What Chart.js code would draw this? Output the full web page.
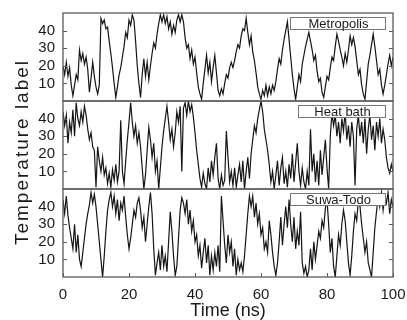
<!DOCTYPE html>
<html>
<head>
<meta charset="utf-8">
<script src="https://cdn.jsdelivr.net/npm/chart.js@4.4.1/dist/chart.umd.min.js"></script>
<style>
  html, body { margin: 0; padding: 0; background: #fff; }
  #wrap { position: relative; width: 407px; height: 320px; }
</style>
</head>
<body>
<div id="wrap"><canvas id="tempChart" width="407" height="320"></canvas></div>
<script>
// sampling interval of the trajectories (ns)
const sampleStep = 0.5;

const panelNames = ['Metropolis', 'Heat bath', 'Suwa-Todo'];
const xTicks = [0, 20, 40, 60, 80, 100];
const yTicks = [10, 20, 30, 40];

// temperature label vs time, every 0.5 ns
const metropolis = [
    20, 15, 22, 14, 19, 9, 3, 9, 15, 12,
    29, 23, 27, 21, 25, 18, 5, 13, 22, 14,
    8, 4, 9, 47, 44, 46, 41, 42, 34, 27,
    19, 10, 2, 8, 15, 19, 25, 31, 39, 36,
    46, 43, 49, 46, 34, 20, 10, 2, 15, 24,
    14, 22, 12, 20, 27, 33, 30, 38, 44, 49,
    45, 49, 44, 48, 41, 45, 38, 43, 39, 46,
    49, 45, 49, 45, 36, 30, 32, 24, 29, 21,
    25, 16, 8, 4, 1, 10, 18, 26, 16, 22,
    11, 19, 26, 16, 6, 3, 7, 4, 10, 15,
    13, 19, 22, 19, 23, 28, 32, 30, 37, 41,
    40, 47, 39, 32, 37, 28, 23, 16, 8, 4,
    1, 6, 3, 9, 3, 8, 4, 9, 6, 11,
    18, 24, 21, 29, 35, 40, 45, 35, 25, 15,
    7, 1, 8, 15, 11, 21, 26, 31, 35, 39,
    34, 29, 23, 26, 17, 11, 13, 5, 2, 8,
    14, 12, 19, 25, 23, 31, 38, 34, 29, 25,
    20, 27, 22, 29, 37, 32, 36, 31, 23, 15,
    18, 9, 4, 1, 11, 21, 26, 32, 38, 31,
    23, 15, 18, 9, 4, 9, 15, 21, 26, 20,
    25
];

const heatBath = [
    44, 36, 42, 26, 38, 32, 45, 30, 49, 40,
    36, 44, 38, 47, 42, 34, 28, 32, 24, 22,
    1, 24, 16, 10, 18, 8, 12, 3, 9, 1,
    11, 5, 14, 4, 10, 39, 10, 3, 16, 28,
    38, 49, 38, 30, 36, 26, 32, 24, 12, 0,
    8, 22, 35, 28, 18, 26, 10, 16, 0, 12,
    24, 33, 40, 47, 38, 28, 34, 24, 32, 44,
    38, 47, 10, 46, 49, 42, 50, 44, 48, 41,
    32, 22, 14, 6, 1, 9, 3, 0, 12, 4,
    16, 8, 18, 26, 6, 0, 8, 2, 5, 33,
    18, 4, 10, 2, 12, 1, 8, 14, 4, 16,
    0, 10, 18, 6, 20, 28, 36, 32, 40, 45,
    50, 44, 34, 28, 22, 14, 4, 10, 0, 8,
    16, 2, 12, 18, 3, 10, 1, 14, 6, 20,
    4, 15, 26, 10, 2, 12, 4, 0, 10, 2,
    34, 10, 20, 4, 16, 2, 22, 8, 18, 28,
    12, 0, 30, 43, 36, 42, 30, 38, 26, 40,
    33, 44, 28, 36, 24, 38, 30, 2, 34, 42,
    30, 38, 26, 40, 20, 34, 42, 28, 36, 22,
    38, 30, 40, 26, 34, 28, 18, 12, 9, 14,
    10
];

const suwaTodo = [
    44, 36, 46, 35, 28, 22, 16, 30, 14, 24,
    10, 6, 14, 22, 30, 36, 41, 48, 42, 47,
    40, 30, 20, 10, 0, 12, 26, 38, 44, 48,
    40, 46, 36, 44, 32, 42, 38, 46, 34, 24,
    16, 22, 30, 38, 34, 42, 45, 38, 28, 34,
    20, 30, 40, 48, 36, 16, 1, 8, 14, 4,
    18, 6, 12, 3, 20, 37, 26, 12, 1, 6,
    22, 38, 45, 42, 36, 44, 30, 38, 26, 32,
    20, 24, 12, 18, 5, 14, 22, 8, 18, 1,
    12, 4, 14, 6, 18, 3, 46, 32, 18, 8,
    24, 14, 20, 6, 16, 1, 10, 4, 8, 3,
    12, 24, 36, 46, 40, 46, 34, 42, 30, 36,
    24, 28, 16, 20, 14, 32, 24, 14, 6, 1,
    8, 20, 34, 18, 30, 40, 28, 44, 30, 20,
    34, 16, 26, 18, 37, 8, 2, 6, 0, 4,
    16, 4, 20, 10, 18, 26, 22, 32, 28, 39,
    44, 30, 14, 22, 6, 0, 12, 24, 18, 30,
    38, 32, 20, 8, 1, 12, 26, 36, 32, 44,
    40, 30, 22, 14, 20, 8, 4, 0, 14, 28,
    37, 46, 40, 48, 38, 46, 42, 48, 36, 44,
    40
];

const series = [metropolis, heatBath, suwaTodo];
const panelIds = ['yTop', 'yMid', 'yBot'];

function toPoints(values) {
    return values.map((v, i) => ({ x: i * sampleStep, y: v }));
}

const fontFamily = '"Liberation Sans", Arial, sans-serif';
const textColor = '#1a1a1a';
const frameColor = '#5a5a5a';

function panelScale() {
    return {
        type: 'linear',
        position: 'left',
        stack: 'temps',
        stackWeight: 1,
        min: 0,
        max: 50,
        afterBuildTicks: s => { s.ticks = yTicks.map(v => ({ value: v })); },
        afterFit: s => {
            s.width = 63;
            s.paddingTop = 0;
            s.paddingBottom = 0;
        },
        grid: { display: false, drawTicks: false },
        border: { display: false },
        ticks: {
            color: textColor,
            padding: 8,
            autoSkip: false,
            font: { family: fontFamily, size: 15 }
        }
    };
}

// frames, inward ticks, panel labels and axis titles
const decorPlugin = {
    id: 'decor',
    afterDatasetsDraw(chart) {
        const { ctx, chartArea, scales } = chart;
        const left = chartArea.left, right = chartArea.right;
        ctx.save();
        panelIds.forEach((id, k) => {
            const s = scales[id];
            ctx.strokeStyle = frameColor;
            ctx.lineWidth = 1.3;
            ctx.strokeRect(left, s.top, right - left, s.bottom - s.top);
            ctx.beginPath();
            yTicks.forEach(v => {
                const py = Math.round(s.getPixelForValue(v)) + 0.5;
                ctx.moveTo(left, py); ctx.lineTo(left + 4, py);
                ctx.moveTo(right - 4, py); ctx.lineTo(right, py);
            });
            ctx.lineWidth = 1;
            ctx.stroke();

            // label box
            const boxW = k === 1 ? 87 : 95;
            const bx = right - 8 - boxW;
            const by = s.top + 4;
            ctx.fillStyle = '#fff';
            ctx.fillRect(bx, by, boxW, 12);
            ctx.strokeStyle = '#777';
            ctx.strokeRect(bx + 0.5, by + 0.5, boxW, 12);
            ctx.fillStyle = textColor;
            ctx.font = '13px ' + fontFamily;
            ctx.textAlign = 'center';
            ctx.textBaseline = 'middle';
            ctx.fillText(panelNames[k], bx + boxW / 2 + 1, by + 7);
        });

        // x ticks, inward
        const xs = scales.x;
        const bottom = chartArea.bottom;
        ctx.beginPath();
        xTicks.forEach(v => {
            const px = Math.round(xs.getPixelForValue(v)) + 0.5;
            ctx.moveTo(px, bottom); ctx.lineTo(px, bottom - 4);
        });
        ctx.strokeStyle = frameColor;
        ctx.lineWidth = 1;
        ctx.stroke();

        // axis titles
        ctx.fillStyle = textColor;
        ctx.font = '18px ' + fontFamily;
        ctx.textAlign = 'center';
        ctx.textBaseline = 'middle';
        ctx.fillText('Time (ns)', (left + right) / 2, 311);
        ctx.translate(23, 152);
        ctx.rotate(-Math.PI / 2);
        ctx.font = '19px ' + fontFamily;
        ctx.letterSpacing = '2px';
        ctx.fillText('Temperature label', 0, 0);
        ctx.restore();
    }
};

new Chart(document.getElementById('tempChart').getContext('2d'), {
    type: 'line',
    data: {
        datasets: series.map((vals, k) => ({
            label: panelNames[k],
            data: toPoints(vals),
            yAxisID: panelIds[k],
            borderColor: '#151515',
            borderWidth: 1.2,
            pointRadius: 0,
            tension: 0,
            fill: false
        }))
    },
    options: {
        responsive: false,
        animation: false,
        layout: { padding: { top: 13, right: 14, left: 0, bottom: 0 } },
        plugins: {
            legend: { display: false },
            tooltip: { enabled: false }
        },
        scales: {
            x: {
                type: 'linear',
                min: 0,
                max: 100,
                afterBuildTicks: s => { s.ticks = xTicks.map(v => ({ value: v })); },
                afterFit: s => {
                    s.height = 43;
                    s.paddingLeft = 0;
                    s.paddingRight = 0;
                },
                grid: { display: false, drawTicks: false },
                border: { display: false },
                ticks: {
                    color: textColor,
                    padding: 9,
                    maxRotation: 0,
                    autoSkip: false,
                    font: { family: fontFamily, size: 15 }
                }
            },
            yBot: panelScale(),
            yMid: panelScale(),
            yTop: panelScale()
        }
    },
    plugins: [decorPlugin]
});
</script>
</body>
</html>
